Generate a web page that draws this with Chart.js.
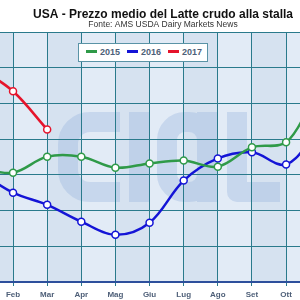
<!DOCTYPE html>
<html>
<head>
<meta charset="utf-8">
<script src="https://cdn.jsdelivr.net/npm/chart.js@4/dist/chart.umd.min.js"></script>
<style>
  html, body { margin: 0; padding: 0; overflow: hidden; background: #fff; }
  #wrap { position: relative; width: 326px; height: 300px; }
  #legenda {
    position: absolute; left: 78px; top: 43px; width: 128px; height: 17px;
    background: #fff; border: 1px solid #5a93a6;
    font: bold 9px "Liberation Sans", Arial, sans-serif; color: #4e5f78;
  }
  #legenda .item { position: absolute; top: 0; height: 17px; line-height: 17px; white-space: nowrap; }
  #legenda .riga { display: inline-block; width: 11px; height: 3px; vertical-align: middle; margin-right: 3px; position: relative; top: -1px; }
</style>
</head>
<body>
<div id="wrap">
  <canvas id="chartLatte" width="326" height="300"></canvas>
  <div id="legenda"></div>
</div>
<script>
// ============================================
// DATI
// ============================================
const MESI = ['Gen', 'Feb', 'Mar', 'Apr', 'Mag', 'Giu', 'Lug', 'Ago', 'Set', 'Ott', 'Nov', 'Dic'];
const ANNI = ['2015', '2016', '2017'];
const PREZZI_2015 = [15.2, 15.06, 15.51, 15.51, 15.2, 15.32, 15.4, 15.23, 15.77, 15.91, 17.2, 17.0];
const PREZZI_2016 = [15.1, 14.5, 14.16, 13.69, 13.32, 13.66, 14.84, 15.46, 15.63, 15.29, 16.2, 16.4];
const PREZZI_2017 = [18.0, 17.34, 16.27];

// colori
const VERDE = '#2f9a48';
const BLU   = '#1414d6';
const ROSSO = '#e5142b';
const GRIGLIA = '#2a7a8c';

// array -> punti {x, y}
const punti = arr => arr.map((v, i) => ({ x: i, y: v }));

// sfondo dell'area grafico: fasce alterne + filigrana del logo
const sfondo = {
  id: 'sfondo',
  beforeDraw(chart) {
    const { ctx, chartArea: a, scales: { x } } = chart;
    ctx.save();
    ctx.beginPath();
    ctx.rect(a.left, a.top, a.right - a.left, a.bottom - a.top);
    ctx.clip();
    ctx.fillStyle = '#e2ebf6';
    ctx.fillRect(a.left, a.top, a.right - a.left, a.bottom - a.top);
    ctx.fillStyle = '#d6e2f0';
    for (let i = 0; i < MESI.length; i += 2) {
      const x0 = x.getPixelForValue(i), x1 = x.getPixelForValue(i + 1);
      ctx.fillRect(x0, a.top, x1 - x0, a.bottom - a.top);
    }
    // filigrana
    ctx.strokeStyle = 'rgba(150, 178, 220, 0.35)';
    ctx.lineWidth = 20;
    ctx.lineJoin = 'round';
    ctx.beginPath();            // c
    ctx.moveTo(120, 122);
    ctx.lineTo(90, 122);
    ctx.arcTo(68, 122, 68, 144, 22);
    ctx.lineTo(68, 170);
    ctx.arcTo(68, 192, 90, 192, 22);
    ctx.lineTo(120, 192);
    ctx.stroke();
    ctx.beginPath();            // l
    ctx.moveTo(139, 112);
    ctx.lineTo(139, 202);
    ctx.stroke();
    ctx.beginPath();            // a
    ctx.roundRect(167, 122, 40, 70, 18);
    ctx.moveTo(207, 112);
    ctx.lineTo(207, 202);
    ctx.stroke();
    ctx.beginPath();            // L
    ctx.moveTo(237, 112);
    ctx.lineTo(237, 192);
    ctx.lineTo(280, 192);
    ctx.stroke();
    ctx.restore();
  }
};

const chart = new Chart(document.getElementById('chartLatte'), {
  type: 'line',
  data: {
    datasets: [
      { label: ANNI[0], data: punti(PREZZI_2015), borderColor: VERDE },
      { label: ANNI[1], data: punti(PREZZI_2016), borderColor: BLU },
      { label: ANNI[2], data: punti(PREZZI_2017), borderColor: ROSSO }
    ].map(d => Object.assign(d, {
      borderWidth: 2.5,
      tension: 0.35,
      pointRadius: 3.5,
      pointBorderWidth: 1.5,
      pointBorderColor: d.borderColor,
      pointBackgroundColor: '#fff'
    }))
  },
  options: {
    responsive: false,
    animation: false,
    layout: { padding: 0, autoPadding: false },
    plugins: {
      legend: { display: false },
      tooltip: { enabled: false },
      title: {
        display: true,
        text: 'USA - Prezzo medio del Latte crudo alla stalla',
        color: '#111',
        font: { family: '"Liberation Sans", Arial, sans-serif', size: 12, weight: 'bold', lineHeight: 1 },
        padding: { top: 8.5, bottom: 0 }
      },
      subtitle: {
        display: true,
        text: 'Fonte: AMS USDA Dairy Markets News',
        color: '#333',
        font: { family: '"Liberation Sans", Arial, sans-serif', size: 8.5, lineHeight: 1 },
        padding: { top: 0, bottom: 3 }
      }
    },
    scales: {
      x: {
        type: 'linear',
        min: 0.618,
        max: 10.17,
        afterBuildTicks: s => { s.ticks = MESI.map((m, i) => ({ value: i })).filter(t => t.value >= 1 && t.value <= 9); },
        afterFit: s => { s.height = 18; s.paddingLeft = 0; s.paddingRight = 0; },
        ticks: {
          callback: v => MESI[v],
          color: '#4e5f78',
          padding: 4,
          maxRotation: 0,
          font: { family: '"Liberation Sans", Arial, sans-serif', size: 8, weight: 'bold' }
        },
        grid: { color: GRIGLIA, tickColor: GRIGLIA, tickLength: 4, lineWidth: 1 },
        border: { color: '#2d4f9c', width: 2 }
      },
      y: {
        min: 12,
        max: 19,
        afterFit: s => { s.width = 0; s.paddingTop = 0; s.paddingBottom = 0; },
        ticks: { display: false, stepSize: 1 },
        grid: { color: GRIGLIA, drawTicks: false, lineWidth: 1 },
        border: { display: false }
      }
    }
  },
  plugins: [sfondo]
});

// legenda HTML dentro l'area del grafico
const legenda = document.getElementById('legenda');
chart.data.datasets.forEach((d, i) => {
  const item = document.createElement('span');
  item.className = 'item';
  item.style.left = (7 + i * 41) + 'px';
  item.innerHTML = '<span class="riga" style="background:' + d.borderColor + '"></span>' + d.label;
  legenda.appendChild(item);
});
</script>
</body>
</html>
